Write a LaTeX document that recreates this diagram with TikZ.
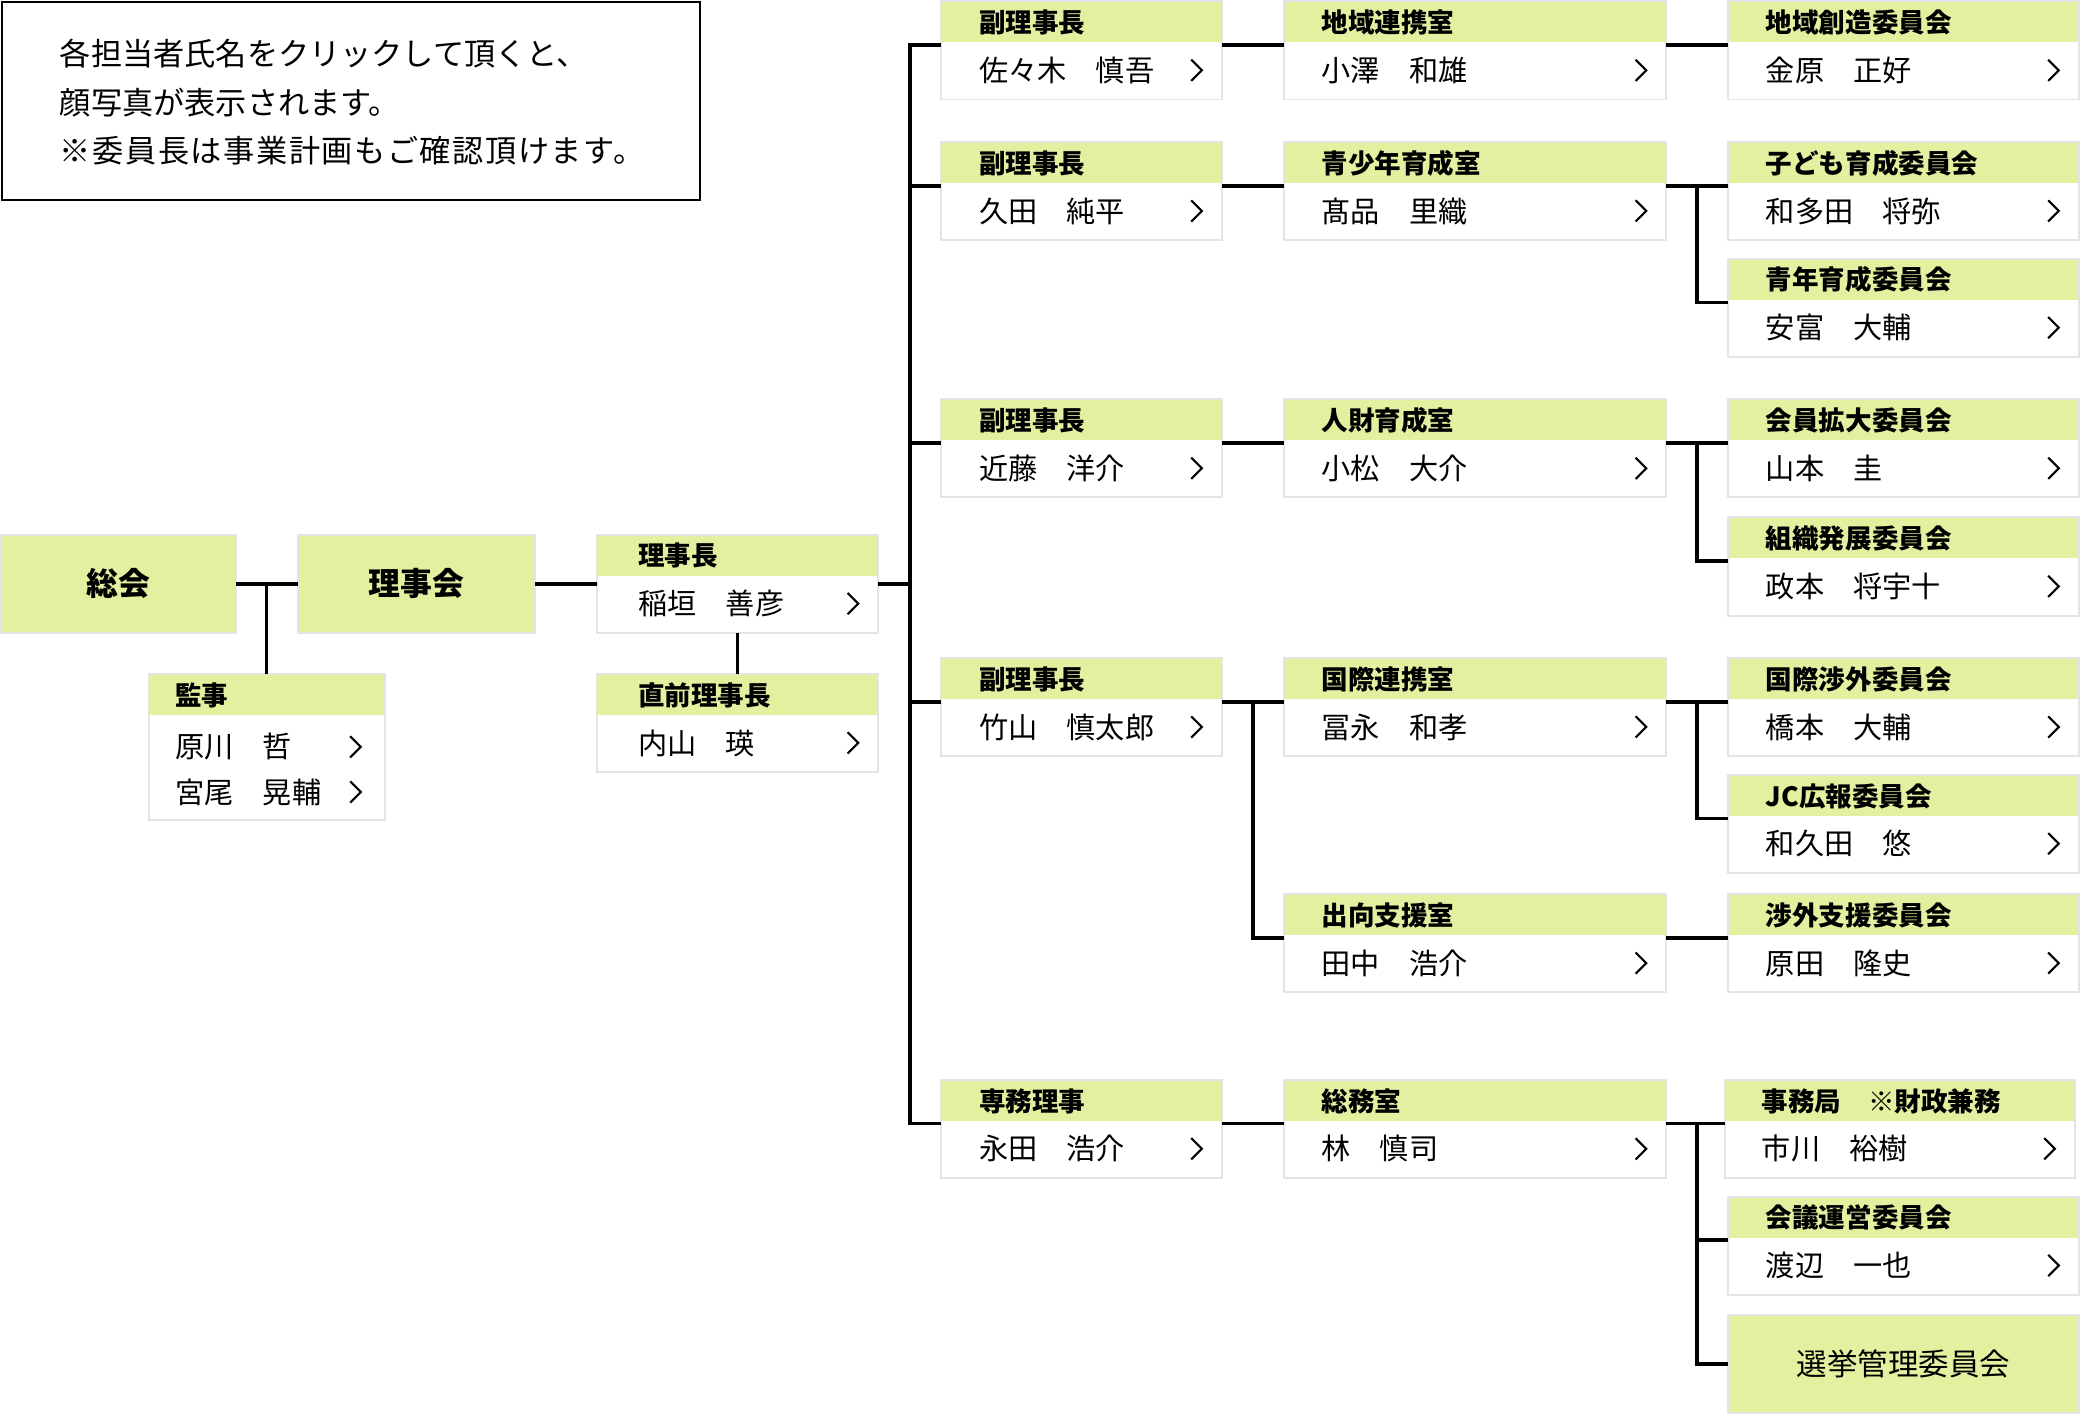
\documentclass[tikz,border=0pt]{standalone}
\usepackage{fontspec}
\setmainfont{Noto Sans CJK JP}
\usetikzlibrary{calc}
\definecolor{hdrgreen}{RGB}{226,241,160}
\definecolor{cardgray}{RGB}{228,228,228}
\tikzset{
  cardbox/.style={draw=cardgray, line width=1.5pt, fill=white, inner sep=0pt, outer sep=0pt,
    minimum height=74pt, anchor=north west,
    path picture={\fill[hdrgreen] (path picture bounding box.north west) rectangle ([yshift=-31pt]path picture bounding box.north east);}},
  greenbox/.style={draw=cardgray, line width=1.5pt, fill=hdrgreen, inner sep=0pt, outer sep=0pt, anchor=north west},
  bigtext/.style={font=\fontsize{24}{24}\selectfont\bfseries, text height=21.1pt, text depth=2.9pt},
  midtext/.style={font=\fontsize{23}{23}\selectfont, text height=20.2pt, text depth=2.8pt},
  hdrtext/.style={font=\fontsize{20}{20}\selectfont\bfseries, anchor=west, inner sep=0pt, text height=17.6pt, text depth=2.4pt},
  nametext/.style={font=\fontsize{22}{22}\selectfont, anchor=west, inner sep=0pt, text height=19.4pt, text depth=2.6pt},
  chev/.style={line width=1.6pt, line join=miter},
  conn/.style={line width=2.8pt, line join=miter}
}
% #1 offset, #2 id, #3 x1, #4 y1, #5 x2, #6 header, #7 name
\newcommand\card[7][28]{%
  \node[cardbox, minimum width={#5-#3}] (#2) at (#3,#4) {};
  \node[hdrtext] (#2-h) at ($(#2.north west)+(#1,16)$) {#6};
  \node[nametext] (#2-n) at ($(#2.north west)+(#1,52)$) {#7};
  \draw[chev] ($(#2.north east)+(-23,44)$) -- ++(8,8) -- ++(-8,8);
  \coordinate (#2-l) at ($(#2.north west)+(0,33)$);
  \coordinate (#2-r) at ($(#2.north east)+(0,33)$);
}
\begin{document}
\begin{tikzpicture}[x=1pt, y=-1pt]
\useasboundingbox (0,0) rectangle (1568,1066);

% info box
\node[draw, line width=1.5pt, minimum width=526pt, minimum height=149pt, anchor=north west, inner sep=0pt] (info) at (1,1) {};
\node[anchor=west, align=left, inner sep=0pt, font=\fontsize{23.5}{36.5}\selectfont] (infotext) at (45,77)
  {各担当者氏名をクリックして頂くと、\\顔写真が表示されます。\\{\addfontfeature{LetterSpace=5}※委員長は事業計画もご確認頂けます。}};

% left part
\node[greenbox, bigtext, minimum width=177pt, minimum height=74pt] (soukai) at (1,403) {総会};
\node[greenbox, bigtext, minimum width=178pt, minimum height=74pt] (rijikai) at (225,403) {理事会};

% 監事
\node[cardbox, minimum width=178pt, minimum height=110pt] (kanji) at (112,508) {};
\node[hdrtext] (kanji-h) at ($(kanji.north west)+(20,16)$) {監事};
\node[nametext] (kanji-n1) at ($(kanji.north west)+(20,55)$) {原川　哲};
\node[nametext] (kanji-n2) at ($(kanji.north west)+(20,89)$) {宮尾　晃輔};
\draw[chev] ($(kanji.north east)+(-26,47)$) -- ++(8,8) -- ++(-8,8);
\draw[chev] ($(kanji.north east)+(-26,81)$) -- ++(8,8) -- ++(-8,8);

\card[31]{rjc}{450}{403}{662}{理事長}{稲垣　善彦}
\card[31]{zen}{450}{508}{662}{直前理事長}{内山　瑛}

% column 2
\card[29]{fk1}{709}{1}{921}{副理事長}{佐々木　慎吾}
\card[29]{fk2}{709}{107}{921}{副理事長}{久田　純平}
\card[29]{fk3}{709}{301}{921}{副理事長}{近藤　洋介}
\card[29]{fk4}{709}{496}{921}{副理事長}{竹山　慎太郎}
\card[29]{sen}{709}{814}{921}{専務理事}{永田　浩介}

% column 3
\card{r1}{968}{1}{1256}{地域連携室}{小澤　和雄}
\card{r2}{968}{107}{1256}{青少年育成室}{髙品　里織}
\card{r3}{968}{301}{1256}{人財育成室}{小松　大介}
\card{r4}{968}{496}{1256}{国際連携室}{冨永　和孝}
\card{r4b}{968}{674}{1256}{出向支援室}{田中　浩介}
\card{r5}{968}{814}{1256}{総務室}{林　慎司}

% column 4
\card{c1}{1303}{1}{1567}{地域創造委員会}{金原　正好}
\card{c2a}{1303}{107}{1567}{子ども育成委員会}{和多田　将弥}
\card{c2b}{1303}{195}{1567}{青年育成委員会}{安富　大輔}
\card{c3a}{1303}{301}{1567}{会員拡大委員会}{山本　圭}
\card{c3b}{1303}{390}{1567}{組織発展委員会}{政本　将宇十}
\card{c4a}{1303}{496}{1567}{国際渉外委員会}{橋本　大輔}
\card{c4b}{1303}{584}{1567}{JC広報委員会}{和久田　悠}
\card{c4c}{1303}{674}{1567}{渉外支援委員会}{原田　隆史}
\card{c5a}{1300}{814}{1564}{事務局　※財政兼務}{市川　裕樹}
\card{c5b}{1303}{902}{1567}{会議運営委員会}{渡辺　一也}
\node[greenbox, midtext, minimum width=264pt, minimum height=74pt] (c5c) at (1303,991) {選挙管理委員会};

% connectors: left
\coordinate (j0) at (kanji.north |- soukai.east);
\draw[conn] (soukai.east) -- (rijikai.west);
\draw[conn] (j0) -- (kanji.north);
\draw[conn] (rijikai.east) -- (rjc.west);
\draw[conn] (rjc.south) -- (zen.north);
\coordinate (bus0) at ($(rjc.east)+(24,0)$);
\draw[conn] (rjc.east) -- (bus0);

% bus
\coordinate (busT) at (bus0 |- fk1-l);
\coordinate (busB) at (bus0 |- sen-l);
\draw[conn] (fk1-l) -- (busT) -- (busB) -- (sen-l);
\coordinate (bus2) at (bus0 |- fk2-l);
\coordinate (bus3) at (bus0 |- fk3-l);
\coordinate (bus4) at (bus0 |- fk4-l);
\draw[conn] (bus2) -- (fk2-l);
\draw[conn] (bus3) -- (fk3-l);
\draw[conn] (bus4) -- (fk4-l);

% column 2 -> 3
\draw[conn] (fk1-r) -- (r1-l);
\draw[conn] (fk2-r) -- (r2-l);
\draw[conn] (fk3-r) -- (r3-l);
\draw[conn] (fk4-r) -- (r4-l);
\draw[conn] (sen-r) -- (r5-l);
\coordinate (j4) at ($(fk4-r)!0.5!(r4-l)$);
\draw[conn] (j4) |- (r4b-l);

% column 3 -> 4
\draw[conn] (r1-r) -- (c1-l);
\draw[conn] (r2-r) -- (c2a-l);
\coordinate (j2) at ($(r2-r)!0.5!(c2a-l)$);
\draw[conn] (j2) |- (c2b-l);
\draw[conn] (r3-r) -- (c3a-l);
\coordinate (j3) at ($(r3-r)!0.5!(c3a-l)$);
\draw[conn] (j3) |- (c3b-l);
\draw[conn] (r4-r) -- (c4a-l);
\coordinate (j4b) at ($(r4-r)!0.5!(c4a-l)$);
\draw[conn] (j4b) |- (c4b-l);
\draw[conn] (r4b-r) -- (c4c-l);
\draw[conn] (r5-r) -- (c5a-l);
\coordinate (j5) at ($(r5-r)!0.5!(r5-r -| c5b-l)$);
\draw[conn] (j5) |- (c5c.west);
\coordinate (j5b) at (j5 |- c5b-l);
\draw[conn] (j5b) -- (c5b-l);
\end{tikzpicture}
\end{document}
